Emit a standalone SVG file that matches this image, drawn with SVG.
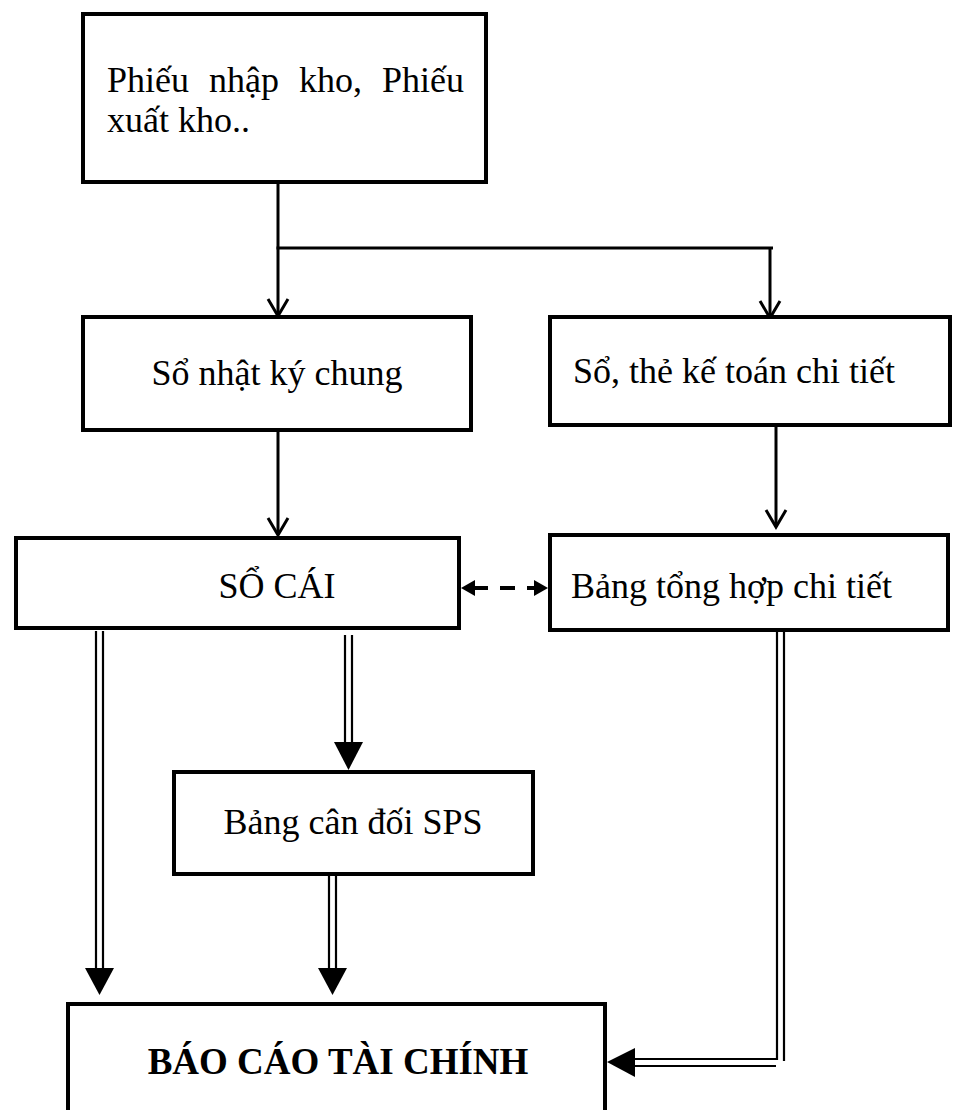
<svg xmlns="http://www.w3.org/2000/svg" width="953" height="1110" viewBox="0 0 953 1110">
  <style>
    .box { fill: #fff; stroke: #000; stroke-width: 4; }
    .lbl { font-family: "Liberation Serif", "Times New Roman", serif; font-size: 36px; fill: #000; }
    .bold { font-weight: bold; font-size: 37px; }
    .line { fill: none; stroke: #000; stroke-width: 3; }
    .thin { fill: none; stroke: #000; stroke-width: 2.2; }
    .dash { fill: none; stroke: #000; stroke-width: 4; stroke-dasharray: 15 12; }
    .head { fill: #000; stroke: none; }
  </style>
  <defs>
    <marker id="open" viewBox="0 0 20 22" markerWidth="20" markerHeight="22" refX="18" refY="11" orient="auto" markerUnits="userSpaceOnUse" overflow="visible">
      <path d="M1,1 L18,11 L1,21" fill="none" stroke="#000" stroke-width="3"/>
    </marker>
  </defs>

  <rect width="953" height="1110" fill="#fff"/>

  <g id="connectors">
    <!-- source split -->
    <path class="line" d="M278,182 V248"/>
    <path class="line" d="M276.5,248 H773"/>
    <path class="line" d="M278,248 V316" marker-end="url(#open)"/>
    <path class="line" d="M770,248 V318" marker-end="url(#open)"/>
    <!-- journal to ledger, detail to summary -->
    <path class="line" d="M278,430 V535" marker-end="url(#open)"/>
    <path class="line" d="M776,425 V527" marker-end="url(#open)"/>
    <!-- ledger <-> summary (dashed, both ends) -->
    <path class="dash" d="M473,588 H536"/>
    <polygon class="head" points="461,588 475,580 475,596"/>
    <polygon class="head" points="548,588 534,580 534,596"/>
    <!-- ledger to report (double line) -->
    <path class="thin" d="M96,631 V970 M103,631 V970"/>
    <polygon class="head" points="85,968 114,968 99.5,995"/>
    <!-- ledger to trial balance -->
    <path class="thin" d="M345,635 V744 M352,635 V744"/>
    <polygon class="head" points="334,742 363,742 348.5,770"/>
    <!-- trial balance to report -->
    <path class="thin" d="M329,876 V970 M336,876 V970"/>
    <polygon class="head" points="318,968 347,968 332.5,995"/>
    <!-- summary to report (double elbow) -->
    <path class="thin" d="M777,632 V1059 H633"/>
    <path class="thin" d="M784,632 V1061"/>
    <path class="thin" d="M776,1066 H633"/>
    <polygon class="head" points="607,1062 635,1048 635,1077"/>
  </g>

  <g id="node-phieu">
    <rect class="box" x="83" y="14" width="403" height="168"/>
    <text class="lbl" x="107" y="92" word-spacing="11">Phiếu nhập kho, Phiếu</text>
    <text class="lbl" x="107" y="132">xuất kho..</text>
  </g>

  <g id="node-nhatky">
    <rect class="box" x="83" y="317" width="388" height="113"/>
    <text class="lbl" x="277" y="385" text-anchor="middle">Sổ nhật ký chung</text>
  </g>

  <g id="node-chitiet">
    <rect class="box" x="550" y="317" width="400" height="108"/>
    <text class="lbl" x="573" y="383">Sổ, thẻ kế toán chi tiết</text>
  </g>

  <g id="node-socai">
    <rect class="box" x="16" y="538" width="443" height="90"/>
    <text class="lbl" x="277" y="598" text-anchor="middle">SỔ CÁI</text>
  </g>

  <g id="node-tonghop">
    <rect class="box" x="550" y="535" width="398" height="95"/>
    <text class="lbl" x="571" y="598">Bảng tổng hợp chi tiết</text>
  </g>

  <g id="node-sps">
    <rect class="box" x="174" y="772" width="359" height="102"/>
    <text class="lbl" x="353" y="834" text-anchor="middle">Bảng cân đối SPS</text>
  </g>

  <g id="node-bctc">
    <rect class="box" x="68" y="1004" width="537" height="120"/>
    <text class="lbl bold" x="338" y="1074" text-anchor="middle">BÁO CÁO TÀI CHÍNH</text>
  </g>
</svg>
